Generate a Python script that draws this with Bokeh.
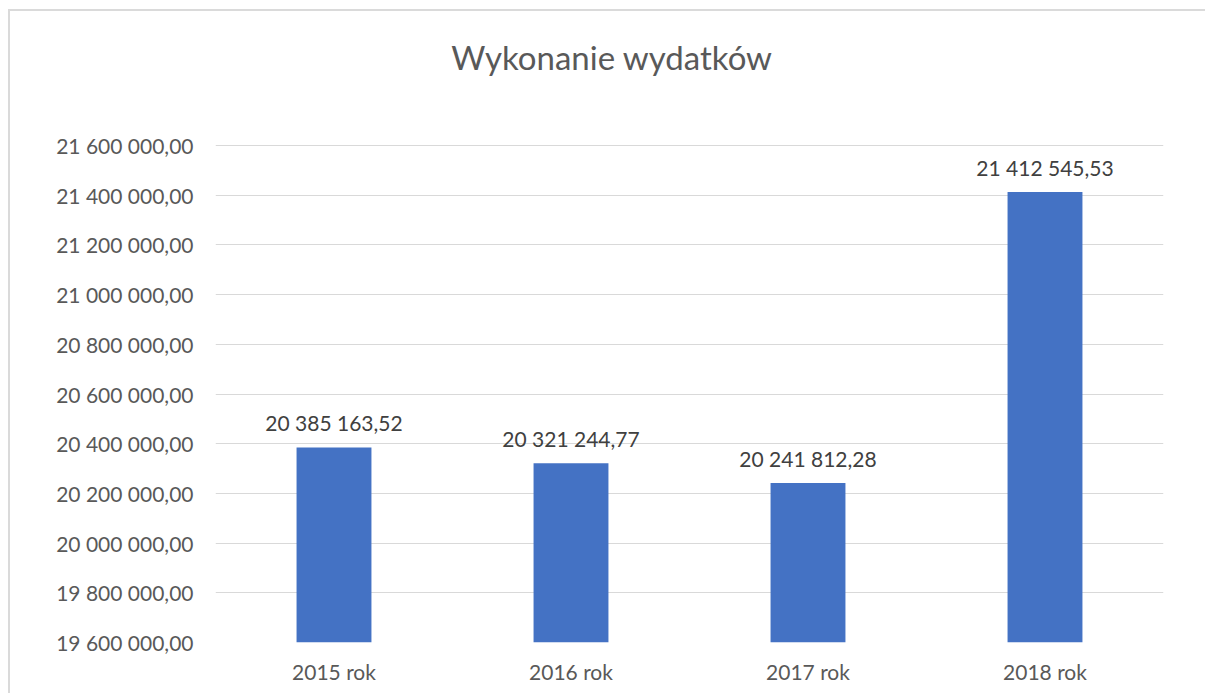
from bokeh.plotting import figure
from bokeh.models import FixedTicker, ColumnDataSource, LabelSet, Label
from bokeh.core.properties import value
from bokeh.embed import file_html
from bokeh.resources import INLINE

title_text = "Wykonanie wydatków"
categories = ["2015 rok", "2016 rok", "2017 rok", "2018 rok"]
values = [20385163.52, 20321244.77, 20241812.28, 21412545.53]
y_ticks = [19600000, 19800000, 20000000, 20200000, 20400000, 20600000,
           20800000, 21000000, 21200000, 21400000, 21600000]


def fmt(v):
    s = f"{v:,.2f}"
    return s.replace(",", " ").replace(".", ",")


FONT = "Lato"
W, H = 1205, 693

# layout (pixels): plot area spans from y=20 to y=642; axis span 19.6M..21.6M covers 497 px
FRAME_TOP, FRAME_BOTTOM, AXIS_PX = 20, 642, 497
y_min, y_max = y_ticks[0], y_ticks[-1]
px_per_unit = AXIS_PX / (y_max - y_min)
y_end = y_min + (FRAME_BOTTOM - FRAME_TOP) / px_per_unit
title_y = y_min + (FRAME_BOTTOM - 56) / px_per_unit

p = figure(x_range=categories, y_range=(y_min, y_end), width=W, height=H,
           output_backend="svg", toolbar_location=None, title_location=None,
           min_border_left=215, min_border_right=42, min_border_top=FRAME_TOP,
           min_border_bottom=H - FRAME_BOTTOM)
p.outline_line_color = None
p.background_fill_color = "white"
p.border_fill_color = None

# title centred over the whole chart (synthetic x coordinate 1.5 = centre of 2nd category)
main_title = Label(x=1.5, y=title_y, x_offset=41, text=title_text,
                   text_align="center", text_baseline="middle",
                   text_font=FONT, text_font_size="33px", text_font_style="normal",
                   text_color="#595959")
p.add_layout(main_title)

src = ColumnDataSource(dict(cat=categories, val=values, lab=[fmt(v) for v in values]))
p.vbar(x="cat", top="val", bottom=y_min, width=0.316, source=src,
       fill_color="#4472C4", line_color=None)

labels = LabelSet(x="cat", y="val", text="lab", source=src, y_offset=12,
                  text_align="center", text_baseline="bottom",
                  text_font=value(FONT), text_font_size=value("21px"),
                  text_color=value("#404040"))
p.add_layout(labels)

p.yaxis.ticker = FixedTicker(ticks=y_ticks)
p.yaxis.major_label_overrides = {t: fmt(t) for t in y_ticks}
p.yaxis.axis_line_color = None
p.yaxis.major_tick_line_color = None
p.yaxis.minor_tick_line_color = None
p.yaxis.major_tick_out = 0
p.yaxis.major_tick_in = 0
p.yaxis.minor_tick_out = 0
p.yaxis.major_label_standoff = 22
p.yaxis.major_label_text_font = FONT
p.yaxis.major_label_text_font_size = "21px"
p.yaxis.major_label_text_color = "#595959"

p.xaxis.axis_line_color = None
p.xaxis.major_tick_line_color = None
p.xaxis.minor_tick_line_color = None
p.xaxis.major_tick_out = 0
p.xaxis.major_tick_in = 0
p.xaxis.major_label_standoff = 16
p.xaxis.major_label_text_font = FONT
p.xaxis.major_label_text_font_size = "21px"
p.xaxis.major_label_text_color = "#595959"

p.xgrid.grid_line_color = None
p.ygrid.grid_line_color = "#d9d9d9"
p.ygrid.grid_line_width = 1

p.styles = {"box-shadow": "inset 8px 9px 0 0 #ffffff, inset 10px 11px 0 0 #dadada"}

open("out.html", "w").write(file_html(p, INLINE))
